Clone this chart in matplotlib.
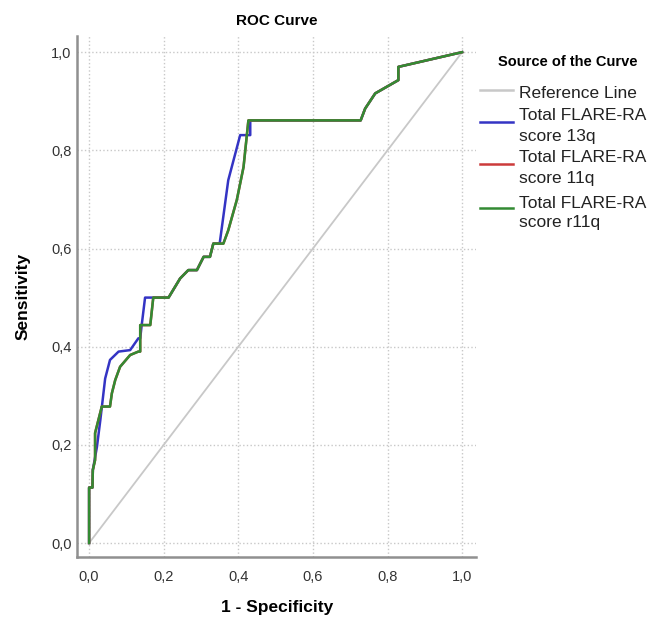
import matplotlib
matplotlib.use("Agg")
import matplotlib.pyplot as plt
from matplotlib.lines import Line2D
from matplotlib.ticker import FuncFormatter

plt.rcParams['font.family'] = ['Liberation Sans', 'DejaVu Sans']

# ROC curve points
fpr_13q = [0, 0, 0.009, 0.010, 0.021, 0.030, 0.043, 0.056, 0.079, 0.110, 0.132, 0.137,
           0.141, 0.150, 0.213, 0.244, 0.266, 0.289, 0.307, 0.324, 0.333, 0.350, 0.373,
           0.405, 0.432, 0.432, 0.728, 0.740, 0.767, 0.829, 0.829, 1.0]
tpr_13q = [0, 0.113, 0.113, 0.149, 0.196, 0.250, 0.335, 0.373, 0.390, 0.393, 0.417, 0.417,
           0.444, 0.500, 0.500, 0.539, 0.556, 0.556, 0.583, 0.583, 0.610, 0.610, 0.739,
           0.831, 0.831, 0.861, 0.861, 0.885, 0.916, 0.943, 0.970, 1.0]

fpr_r11q = [0, 0, 0.009, 0.010, 0.016, 0.016, 0.034, 0.056, 0.061, 0.070, 0.083, 0.110,
            0.132, 0.137, 0.137, 0.164, 0.172, 0.213, 0.244, 0.266, 0.289, 0.307, 0.324,
            0.333, 0.360, 0.373, 0.396, 0.414, 0.427, 0.728, 0.740, 0.767, 0.829, 0.829, 1.0]
tpr_r11q = [0, 0.113, 0.113, 0.149, 0.169, 0.224, 0.278, 0.278, 0.305, 0.332, 0.359, 0.383,
            0.390, 0.390, 0.444, 0.444, 0.500, 0.500, 0.539, 0.556, 0.556, 0.583, 0.583,
            0.610, 0.610, 0.637, 0.699, 0.766, 0.861, 0.861, 0.885, 0.916, 0.943, 0.970, 1.0]

# 11q curve is hidden under r11q in the picture
fpr_11q = list(fpr_r11q)
tpr_11q = list(tpr_r11q)

ref_line = [0, 1]
ticks = [0.0, 0.2, 0.4, 0.6, 0.8, 1.0]

labels = [['Reference Line'], ['Total FLARE-RA', 'score 13q'], ['Total FLARE-RA', 'score 11q'],
          ['Total FLARE-RA', 'score r11q']]
colors = ['#c8c8c8', '#3434c4', '#cc3b3b', '#338a33']

fig = plt.figure(figsize=(6.54, 6.2), dpi=100)
ax = fig.add_axes([0.118, 0.1016, 0.61, 0.8404])

ax.plot(ref_line, ref_line, color=colors[0], lw=1.3, zorder=2)
ax.plot(fpr_13q, tpr_13q, color=colors[1], lw=1.8, zorder=3)
ax.plot(fpr_11q, tpr_11q, color=colors[2], lw=1.8, zorder=4)
ax.plot(fpr_r11q, tpr_r11q, color=colors[3], lw=1.8, zorder=5)

ax.set_xlim(-0.032, 1.0375)
ax.set_ylim(-0.0285, 1.033)
ax.set_xticks(ticks)
ax.set_yticks(ticks)
fmt = FuncFormatter(lambda v, p: f"{v:.1f}".replace('.', ','))
ax.xaxis.set_major_formatter(fmt)
ax.yaxis.set_major_formatter(fmt)
ax.tick_params(length=0, labelsize=10.5, labelcolor='#333333')
ax.tick_params(axis='x', pad=9)
ax.tick_params(axis='y', pad=4)
ax.grid(True, color='#c8c8c8', linestyle=':', linewidth=1.0)
ax.set_axisbelow(True)

for s in ['top', 'right']:
    ax.spines[s].set_visible(False)
for s in ['left', 'bottom']:
    ax.spines[s].set_color('#909090')
    ax.spines[s].set_linewidth(1.8)

ax.set_xlabel('1 - Specificity', fontsize=12.5, fontweight='bold', labelpad=12)
ax.set_ylabel('Sensitivity', fontsize=12.5, fontweight='bold', labelpad=15)
ax.set_title('ROC Curve', fontsize=11, fontweight='bold', pad=8)

# legend drawn by hand to match the layout (pixel positions)
W, H = 654.0, 620.0
fig.text(498 / W, 1 - 62 / H, 'Source of the Curve', fontsize=10.5, fontweight='bold',
         va='center', ha='left')
line_y = [90, 122, 164, 208]
text_y = [[93], [115, 136], [158, 179], [203, 223]]
for lab, c, ly, tys in zip(labels, colors, line_y, text_y):
    fig.add_artist(Line2D([480 / W, 513 / W], [1 - ly / H, 1 - ly / H], color=c, lw=1.8))
    for part, ty in zip(lab, tys):
        fig.text(519 / W, 1 - ty / H, part, fontsize=12.5, va='center', ha='left',
                 color='#222222')

fig.savefig('out.png', dpi=100)
